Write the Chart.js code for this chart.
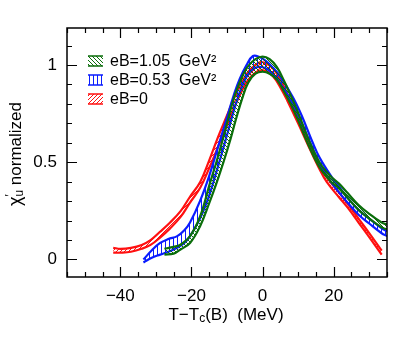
<!DOCTYPE html>
<html>
<head>
<meta charset="utf-8">
<script src="https://cdn.jsdelivr.net/npm/chart.js@4.4.0/dist/chart.umd.min.js"></script>
<style>
  body { margin: 0; background: #fff; }
  #caja { width: 409px; height: 339px; }
</style>
</head>
<body>
<div id="caja"><canvas id="grafica" width="409" height="339"></canvas></div>
<script>
// Datos: banda inferior / superior por cada eB
const xRojo = [-42, -40, -37, -34, -31.5, -29, -26, -23, -20.5, -17.5, -15, -12.5, -10, -8, -6, -4, -2, -0.5, 1, 3, 5, 7, 10, 13, 16, 18, 21.5, 24, 27, 30, 33.5];
const bajoRojo = [0.035, 0.035, 0.04, 0.055, 0.075, 0.11, 0.16, 0.22, 0.29, 0.37, 0.47, 0.58, 0.69, 0.78, 0.86, 0.925, 0.96, 0.972, 0.968, 0.94, 0.885, 0.815, 0.70, 0.58, 0.465, 0.40, 0.32, 0.265, 0.19, 0.115, 0.025];
const altoRojo = [0.06, 0.055, 0.06, 0.075, 0.10, 0.14, 0.19, 0.25, 0.32, 0.40, 0.51, 0.63, 0.74, 0.83, 0.905, 0.965, 1.0, 1.015, 1.008, 0.98, 0.925, 0.85, 0.73, 0.605, 0.49, 0.425, 0.345, 0.285, 0.21, 0.135, 0.045];

const xAzul = [-33.5, -31, -28.8, -26.5, -24, -22, -20.4, -17.6, -15, -12.5, -10, -8, -6.4, -4.5, -2.7, -1, 1, 3, 5, 8.5, 11, 14, 16, 19.4, 21.5, 24, 27, 30, 33.5, 35];
const bajoAzul = [-0.015, 0.01, 0.025, 0.04, 0.06, 0.085, 0.12, 0.21, 0.33, 0.48, 0.64, 0.77, 0.86, 0.94, 0.978, 0.99, 0.982, 0.952, 0.905, 0.80, 0.70, 0.575, 0.495, 0.395, 0.345, 0.29, 0.23, 0.185, 0.135, 0.12];
const altoAzul = [0.0, 0.05, 0.085, 0.105, 0.12, 0.15, 0.19, 0.30, 0.43, 0.58, 0.73, 0.85, 0.93, 1.0, 1.046, 1.042, 1.02, 0.985, 0.94, 0.835, 0.74, 0.605, 0.525, 0.425, 0.375, 0.315, 0.255, 0.21, 0.16, 0.145];

const xVerde = [-27.6, -25, -23.2, -20.4, -17.6, -15, -13, -11, -9, -7.5, -5.5, -4, -2, 0, 2, 4, 6, 8, 10, 13, 16, 19, 21.5, 24, 27, 30, 33.5, 35];
const bajoVerde = [0.025, 0.03, 0.05, 0.085, 0.17, 0.29, 0.39, 0.50, 0.62, 0.72, 0.84, 0.91, 0.955, 0.965, 0.955, 0.925, 0.865, 0.795, 0.715, 0.585, 0.475, 0.405, 0.365, 0.315, 0.255, 0.21, 0.165, 0.155];
const altoVerde = [0.055, 0.065, 0.075, 0.12, 0.22, 0.38, 0.50, 0.63, 0.77, 0.86, 0.95, 0.995, 1.03, 1.043, 1.03, 0.99, 0.92, 0.84, 0.755, 0.615, 0.50, 0.43, 0.39, 0.34, 0.28, 0.235, 0.19, 0.18];

const etiquetas = ['eB=1.05  GeV²', 'eB=0.53  GeV²', 'eB=0'];
const ticksX = [-40, -20, 0, 20];
const ticksY = [0, 0.5, 1];

const VERDE = '#0b6e0b';
const AZUL = '#0a1cff';
const ROJO = '#ff1010';
const FUENTE = '"Liberation Sans", Arial, sans-serif';

// Patron de rayado para cada banda
const crearPatron = (color, tipo) => {
    const c = document.createElement('canvas');
    c.width = 4;
    c.height = 4;
    const ctx = c.getContext('2d');
    ctx.strokeStyle = color;
    ctx.lineWidth = 1;
    ctx.beginPath();
    if (tipo === 'v') {
        ctx.moveTo(1.5, 0); ctx.lineTo(1.5, 4);
    } else if (tipo === 'b') {
        ctx.moveTo(0, 0); ctx.lineTo(4, 4);
        ctx.moveTo(-2, 2); ctx.lineTo(2, 6);
        ctx.moveTo(2, -2); ctx.lineTo(6, 2);
    } else {
        ctx.moveTo(0, 4); ctx.lineTo(4, 0);
        ctx.moveTo(-2, 2); ctx.lineTo(2, -2);
        ctx.moveTo(2, 6); ctx.lineTo(6, 2);
    }
    ctx.stroke();
    return ctx.createPattern(c, 'repeat');
};

const patrones = [crearPatron(VERDE, 'b'), crearPatron(AZUL, 'v'), crearPatron(ROJO, 's')];
const colores = [VERDE, AZUL, ROJO];

const puntos = (xs, ys) => xs.map((x, i) => ({ x: x, y: ys[i] }));

const banda = (xs, bajo, alto, color, patron) => [
    { data: puntos(xs, bajo), borderColor: color, borderWidth: 2.2, pointRadius: 0, fill: false, tension: 0.4 },
    { data: puntos(xs, alto), borderColor: color, borderWidth: 2.2, pointRadius: 0, fill: '-1', backgroundColor: patron, tension: 0.4 }
];

// Ticks hacia adentro en los cuatro lados, caja y textos de ejes
const marcoPlugin = {
    id: 'marco',
    afterDraw: (chart) => {
        const ctx = chart.ctx;
        const a = chart.chartArea;
        const sx = chart.scales.x;
        const sy = chart.scales.y;
        ctx.save();
        ctx.strokeStyle = '#000';
        ctx.lineWidth = 1.5;
        ctx.strokeRect(a.left, a.top, a.right - a.left, a.bottom - a.top);
        ctx.lineWidth = 1.2;
        ctx.beginPath();
        for (let v = -55; v <= 35; v += 5) {
            const px = Math.round(sx.getPixelForValue(v)) + 0.5;
            const largo = (v % 20 === 0) ? 10 : 5;
            ctx.moveTo(px, a.bottom); ctx.lineTo(px, a.bottom - largo);
            ctx.moveTo(px, a.top); ctx.lineTo(px, a.top + largo);
        }
        for (let k = 0; k <= 11; k++) {
            const v = k / 10;
            const py = Math.round(sy.getPixelForValue(v)) + 0.5;
            const largo = (k % 5 === 0) ? 10 : 5;
            ctx.moveTo(a.left, py); ctx.lineTo(a.left + largo, py);
            ctx.moveTo(a.right, py); ctx.lineTo(a.right - largo, py);
        }
        ctx.stroke();

        // Leyenda
        ctx.font = '16px ' + FUENTE;
        ctx.textBaseline = 'middle';
        etiquetas.forEach((t, i) => {
            const y = 61 + i * 19;
            ctx.fillStyle = patrones[i];
            ctx.fillRect(88, y - 5, 15, 10);
            ctx.strokeStyle = colores[i];
            ctx.lineWidth = 1.5;
            ctx.beginPath();
            ctx.moveTo(88, y - 5); ctx.lineTo(103, y - 5);
            ctx.moveTo(88, y + 5); ctx.lineTo(103, y + 5);
            ctx.stroke();
            ctx.fillStyle = '#000';
            ctx.textAlign = 'left';
            ctx.fillText(t, 110, y + 1);
        });

        // Titulo eje x: T-Tc(B)  (MeV)
        ctx.fillStyle = '#000';
        const y0 = 315;
        const partes = [['T−T', 17, 0], ['c', 12, 4], ['(B)  (MeV)', 17, 0]];
        let ancho = 0;
        partes.forEach(p => { ctx.font = p[1] + 'px ' + FUENTE; ancho += ctx.measureText(p[0]).width; });
        let x = 226 - ancho / 2;
        ctx.textAlign = 'left';
        partes.forEach(p => {
            ctx.font = p[1] + 'px ' + FUENTE;
            ctx.fillText(p[0], x, y0 + p[2]);
            x += ctx.measureText(p[0]).width;
        });

        // Titulo eje y: chi'_u normalized
        ctx.translate(16, 154);
        ctx.rotate(-Math.PI / 2);
        const partesY = [['χ', 18, 0], ['′', 12, -5], ['u', 12, 4], [' normalized', 17, 0]];
        ancho = 0;
        partesY.forEach((p, i) => { ctx.font = p[1] + 'px ' + FUENTE; if (i !== 1) ancho += ctx.measureText(p[0]).width; });
        x = -ancho / 2;
        partesY.forEach((p, i) => {
            ctx.font = p[1] + 'px ' + FUENTE;
            ctx.fillText(p[0], x, p[2]);
            if (i !== 1) x += ctx.measureText(p[0]).width;
        });
        ctx.restore();
    }
};

const ctx = document.getElementById('grafica').getContext('2d');
new Chart(ctx, {
    type: 'line',
    data: {
        datasets: [
            ...banda(xVerde, bajoVerde, altoVerde, VERDE, patrones[0]),
            ...banda(xAzul, bajoAzul, altoAzul, AZUL, patrones[1]),
            ...banda(xRojo, bajoRojo, altoRojo, ROJO, patrones[2])
        ]
    },
    options: {
        responsive: false,
        animation: false,
        layout: { padding: { left: 0, right: 22, top: 28, bottom: 0 } },
        plugins: { legend: { display: false }, tooltip: { enabled: false } },
        scales: {
            x: {
                type: 'linear',
                min: -55,
                max: 35,
                afterFit: (s) => { s.height = 62; },
                afterBuildTicks: (s) => { s.ticks = ticksX.map(v => ({ value: v })); },
                grid: { display: false, drawTicks: false },
                border: { display: false },
                ticks: {
                    color: '#000',
                    padding: 9,
                    font: { family: FUENTE, size: 17 },
                    callback: (v) => String(v).replace('-', '−')
                }
            },
            y: {
                type: 'linear',
                min: -0.09,
                max: 1.19,
                afterFit: (s) => { s.width = 67; },
                afterBuildTicks: (s) => { s.ticks = ticksY.map(v => ({ value: v })); },
                grid: { display: false, drawTicks: false },
                border: { display: false },
                ticks: {
                    color: '#000',
                    padding: 10,
                    font: { family: FUENTE, size: 17 },
                    callback: (v) => String(v)
                }
            }
        }
    },
    plugins: [marcoPlugin]
});
</script>
</body>
</html>
